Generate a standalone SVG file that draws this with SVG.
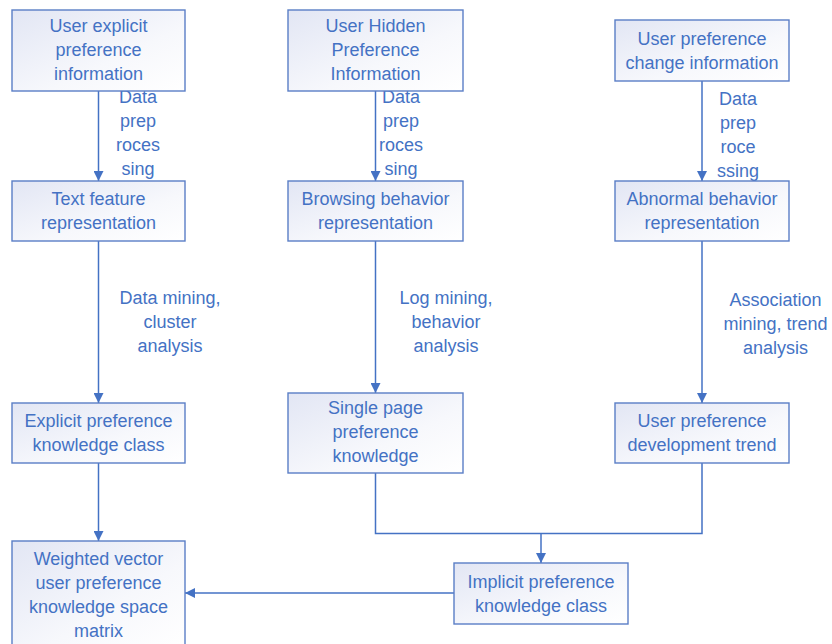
<svg xmlns="http://www.w3.org/2000/svg" width="832" height="644" viewBox="0 0 832 644">
<defs>
<linearGradient id="g" x1="0" y1="0" x2="1" y2="1">
<stop offset="0" stop-color="#E2E6F4"/>
<stop offset="0.6" stop-color="#F7F8FC"/>
<stop offset="1" stop-color="#FFFFFF"/>
</linearGradient>
<marker id="arr" viewBox="0 0 10 10" refX="10" refY="5" markerWidth="10" markerHeight="10" markerUnits="userSpaceOnUse" orient="auto">
<path d="M0,0 L10,5 L0,10 Z" fill="#4472C4"/>
</marker>
<style>
.box{fill:url(#g);stroke:#5A7EC6;stroke-width:1.4}
.t{font-family:"Liberation Sans",Arial,sans-serif;font-size:18px;fill:#4472C4;text-anchor:middle}
.c{fill:none;stroke:#4472C4;stroke-width:1.5}
</style>
</defs>
<rect width="832" height="644" fill="#FFFFFF"/>
<g id="connectors">
<line class="c" x1="98.5" y1="91" x2="98.5" y2="181" marker-end="url(#arr)"/>
<line class="c" x1="98.5" y1="241" x2="98.5" y2="403" marker-end="url(#arr)"/>
<line class="c" x1="98.5" y1="463" x2="98.5" y2="541" marker-end="url(#arr)"/>
<line class="c" x1="375.5" y1="91" x2="375.5" y2="181" marker-end="url(#arr)"/>
<line class="c" x1="375.5" y1="241" x2="375.5" y2="393" marker-end="url(#arr)"/>
<line class="c" x1="702" y1="81" x2="702" y2="181" marker-end="url(#arr)"/>
<line class="c" x1="702" y1="241" x2="702" y2="403" marker-end="url(#arr)"/>
<polyline class="c" points="375.5,473 375.5,533.5 702,533.5 702,463"/>
<line class="c" x1="541" y1="533.5" x2="541" y2="563" marker-end="url(#arr)"/>
<line class="c" x1="454" y1="593" x2="185" y2="593" marker-end="url(#arr)"/>
<text class="t" x="138" y="103">Data</text>
<text class="t" x="138" y="127">prep</text>
<text class="t" x="138" y="151">roces</text>
<text class="t" x="138" y="175">sing</text>
<text class="t" x="401" y="103">Data</text>
<text class="t" x="401" y="127">prep</text>
<text class="t" x="401" y="151">roces</text>
<text class="t" x="401" y="175">sing</text>
<text class="t" x="738" y="105">Data</text>
<text class="t" x="738" y="129">prep</text>
<text class="t" x="738" y="153">roce</text>
<text class="t" x="738" y="177">ssing</text>
<text class="t" x="170" y="304">Data mining,</text>
<text class="t" x="170" y="328">cluster</text>
<text class="t" x="170" y="352">analysis</text>
<text class="t" x="446" y="304">Log mining,</text>
<text class="t" x="446" y="328">behavior</text>
<text class="t" x="446" y="352">analysis</text>
<text class="t" x="775.5" y="306">Association</text>
<text class="t" x="775.5" y="330">mining, trend</text>
<text class="t" x="775.5" y="354">analysis</text>
</g>
<g id="n1"><rect class="box" x="12" y="10" width="173" height="81"/>
<text class="t" x="98.5" y="32">User explicit</text><text class="t" x="98.5" y="56">preference</text><text class="t" x="98.5" y="80">information</text></g>
<g id="n2"><rect class="box" x="288" y="10" width="175" height="81"/>
<text class="t" x="375.5" y="32">User Hidden</text><text class="t" x="375.5" y="56">Preference</text><text class="t" x="375.5" y="80">Information</text></g>
<g id="n3"><rect class="box" x="615" y="20" width="174" height="61"/>
<text class="t" x="702" y="45">User preference</text><text class="t" x="702" y="69">change information</text></g>
<g id="n4"><rect class="box" x="12" y="181" width="173" height="60"/>
<text class="t" x="98.5" y="205">Text feature</text><text class="t" x="98.5" y="229">representation</text></g>
<g id="n5"><rect class="box" x="288" y="181" width="175" height="60"/>
<text class="t" x="375.5" y="205">Browsing behavior</text><text class="t" x="375.5" y="229">representation</text></g>
<g id="n6"><rect class="box" x="615" y="181" width="174" height="60"/>
<text class="t" x="702" y="205">Abnormal behavior</text><text class="t" x="702" y="229">representation</text></g>
<g id="n7"><rect class="box" x="12" y="403" width="173" height="60"/>
<text class="t" x="98.5" y="427">Explicit preference</text><text class="t" x="98.5" y="451">knowledge class</text></g>
<g id="n8"><rect class="box" x="288" y="393" width="175" height="80"/>
<text class="t" x="375.5" y="414">Single page</text><text class="t" x="375.5" y="438">preference</text><text class="t" x="375.5" y="462">knowledge</text></g>
<g id="n9"><rect class="box" x="615" y="403" width="174" height="60"/>
<text class="t" x="702" y="427">User preference</text><text class="t" x="702" y="451">development trend</text></g>
<g id="n10"><rect class="box" x="12" y="541" width="173" height="106"/>
<text class="t" x="98.5" y="565">Weighted vector</text><text class="t" x="98.5" y="589">user preference</text><text class="t" x="98.5" y="613">knowledge space</text><text class="t" x="98.5" y="637">matrix</text></g>
<g id="n11"><rect class="box" x="454" y="563" width="174" height="61"/>
<text class="t" x="541" y="588">Implicit preference</text><text class="t" x="541" y="612">knowledge class</text></g>
</svg>
